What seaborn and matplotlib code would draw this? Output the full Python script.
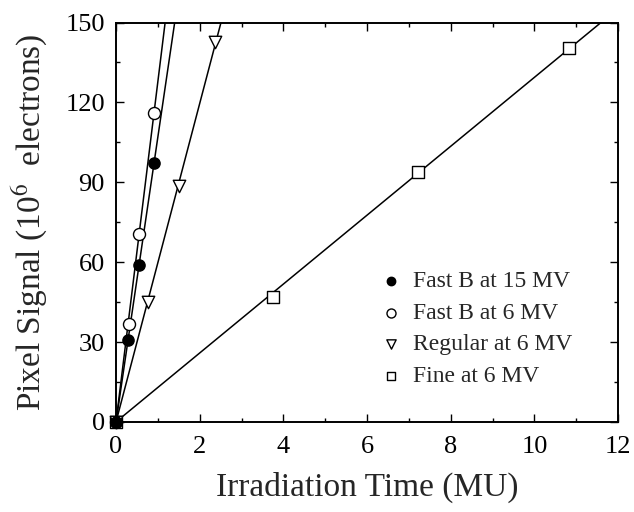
import numpy as np
import pandas as pd
import matplotlib
matplotlib.use("Agg")
import matplotlib.pyplot as plt
import seaborn as sns
from matplotlib.ticker import MultipleLocator

sns.set_theme(style="ticks")
plt.rcParams['font.family'] = ['Liberation Serif', 'DejaVu Serif']
plt.rcParams['mathtext.fontset'] = 'stix'

series_names = ["Fast B at 15 MV", "Fast B at 6 MV", "Regular at 6 MV", "Fine at 6 MV"]
fastb15_x = [0.0, 0.29, 0.55, 0.91]
fastb15_y = [0.0, 30.7, 59.0, 97.4]
fastb6_x = [0.0, 0.31, 0.55, 0.90]
fastb6_y = [0.0, 36.7, 70.4, 116.0]
regular_x = [0.0, 0.77, 1.51, 2.36]
regular_y = [0.0, 45.1, 88.5, 142.6]
fine_x = [0.0, 3.75, 7.22, 10.83]
fine_y = [0.0, 47.0, 93.9, 140.4]

xs = [fastb15_x, fastb6_x, regular_x, fine_x]
ys = [fastb15_y, fastb6_y, regular_y, fine_y]
markers = ["o", "o", "v", "s"]
faces = ["black", "white", "white", "white"]
sizes = [65, 75, 80, 70]
zorders = [8, 6, 6, 5]

fig = plt.figure(figsize=(6.34, 5.12), dpi=100)
ax = fig.add_axes([0.183, 0.176, 0.792, 0.780])

for name, x, y, m, fc, s, z in zip(series_names, xs, ys, markers, faces, sizes, zorders):
    x = np.array(x); y = np.array(y)
    slope = np.sum(x * y) / np.sum(x * x)
    fit = pd.DataFrame({"x": [0.0, 12.0], "y": [0.0, 12.0 * slope]})
    sns.lineplot(data=fit, x="x", y="y", ax=ax, color="black", lw=1.1, legend=False)
    df = pd.DataFrame({"x": x, "y": y})
    sns.scatterplot(data=df, x="x", y="y", ax=ax, marker=m, s=s, facecolor=fc,
                    edgecolor="black", linewidth=1.0, label=name, zorder=z, clip_on=False)

ax.set_xlim(0, 12)
ax.set_ylim(0, 150)
ax.xaxis.set_major_locator(MultipleLocator(2))
ax.xaxis.set_minor_locator(MultipleLocator(1))
ax.yaxis.set_major_locator(MultipleLocator(30))
ax.yaxis.set_minor_locator(MultipleLocator(15))
ax.tick_params(which="both", direction="in", top=True, right=True, colors="black",
               labelsize=19, width=1.0)
ax.tick_params(which="major", length=6)
ax.tick_params(which="minor", length=3)
ax.tick_params(axis="x", which="both", pad=10)
ax.tick_params(axis="y", which="both", pad=8)
for sp in ax.spines.values():
    sp.set_linewidth(1.4)
    sp.set_color("black")

ax.set_xlabel("Irradiation Time (MU)", fontsize=24, labelpad=10)
ax.set_ylabel(r"Pixel Signal (10$^{6}$  electrons)", fontsize=24, labelpad=10)

leg = ax.legend(loc="center left", bbox_to_anchor=(0.524, 0.233), frameon=False, fontsize=17,
                handlelength=1.0, handletextpad=0.45, labelspacing=0.42, borderpad=0,
                borderaxespad=0, markerscale=0.75)

fig.savefig("out.png", dpi=100)
